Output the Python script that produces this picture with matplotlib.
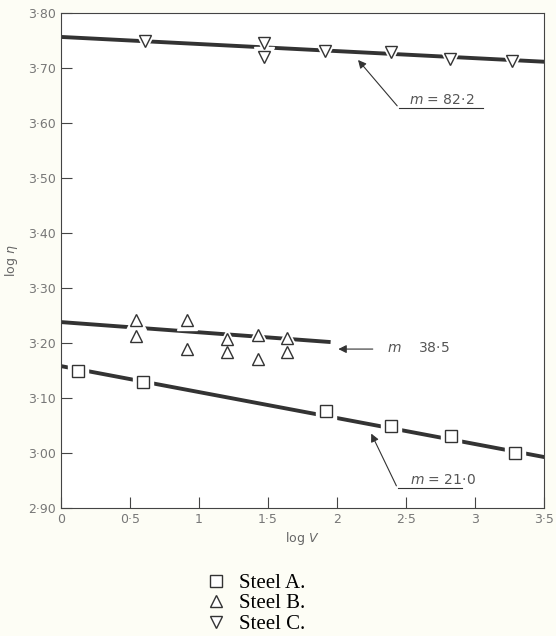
import matplotlib
matplotlib.use('Agg')
import matplotlib.pyplot as plt
from matplotlib.lines import Line2D

# Steel A (squares)
a_x = [0.12, 0.59, 1.92, 2.39, 2.83, 3.29]
a_y = [3.149, 3.129, 3.076, 3.049, 3.031, 3.000]
a_fit = [3.158, 2.993]          # fit at x=0 and x=3.5

# Steel B (up triangles)
b_x = [0.54, 0.54, 0.91, 0.91, 1.20, 1.20, 1.43, 1.43, 1.64, 1.64]
b_y = [3.242, 3.213, 3.242, 3.189, 3.207, 3.184, 3.215, 3.171, 3.209, 3.184]
b_fit_x = [0.0, 1.94]
b_fit = [3.238, 3.202]

# Steel C (down triangles)
c_x = [0.61, 1.47, 1.47, 1.91, 2.39, 2.82, 3.27]
c_y = [3.749, 3.745, 3.720, 3.731, 3.729, 3.716, 3.713]
c_fit = [3.756, 3.711]

x_ticks = [0, 0.5, 1, 1.5, 2, 2.5, 3, 3.5]
x_labels = ['0', '0·5', '1', '1·5', '2', '2·5', '3', '3·5']
y_ticks = [2.9, 3.0, 3.1, 3.2, 3.3, 3.4, 3.5, 3.6, 3.7, 3.8]
y_labels = ['2·90', '3·00', '3·10', '3·20', '3·30', '3·40', '3·50', '3·60', '3·70', '3·80']

bg = '#fdfdf5'
ink = '#333333'
fig = plt.figure(figsize=(5.56, 6.36), dpi=100, facecolor=bg)
ax = fig.add_axes([0.110, 0.201, 0.868, 0.779])
ax.set_facecolor('white')

ax.plot([0, 3.5], a_fit, color=ink, lw=2.8, zorder=2)
ax.plot(b_fit_x, b_fit, color=ink, lw=2.8, zorder=2)
ax.plot([0, 3.5], c_fit, color=ink, lw=2.8, zorder=2)

for xs, ys, mk in [(a_x, a_y, 's'), (b_x, b_y, '^'), (c_x, c_y, 'v')]:
    # white halo so the fit line breaks around each marker
    ax.plot(xs, ys, ls='none', marker=mk, ms=14, mfc='white', mec='white', zorder=3)
    ax.plot(xs, ys, ls='none', marker=mk, ms=9, mfc='white', mec=ink, mew=1.0, zorder=4)

# annotations
arrow = dict(arrowstyle='-|>', color=ink, lw=0.8, mutation_scale=12)
ax.plot([2.45, 3.06], [3.627, 3.627], color=ink, lw=0.8)
ax.annotate('', xy=(2.14, 3.718), xytext=(2.45, 3.627), arrowprops=arrow)
ax.text(2.52, 3.634, r'$m$ = 82·2', fontsize=10, color='#555555')

ax.annotate('', xy=(1.99, 3.189), xytext=(2.28, 3.189), arrowprops=arrow)
ax.text(2.36, 3.183, r'$m$    38·5', fontsize=10, color='#555555')

ax.plot([2.44, 2.91], [2.936, 2.936], color=ink, lw=0.8)
ax.annotate('', xy=(2.24, 3.040), xytext=(2.44, 2.936), arrowprops=arrow)
ax.text(2.53, 2.943, r'$m$ = 21·0', fontsize=10, color='#555555')

ax.set_xlim(0, 3.5)
ax.set_ylim(2.9, 3.8)
ax.set_xticks(x_ticks)
ax.set_xticklabels(x_labels)
ax.set_yticks(y_ticks)
ax.set_yticklabels(y_labels)
ax.tick_params(direction='in', length=8, width=0.8, colors='#444444',
               labelcolor='#777777', labelsize=9)
for s in ax.spines.values():
    s.set_color('#444444')
    s.set_linewidth(0.8)
ax.set_xlabel(r'log $V$', color='#666666', fontsize=9, labelpad=3)
ax.set_ylabel(r'log $\eta$', color='#666666', fontsize=9, labelpad=6)

handles = [Line2D([], [], ls='none', marker=m, ms=8, mfc='white', mec=ink, mew=1.0)
           for m in ['s', '^', 'v']]
fig.legend(handles, ['Steel A.', 'Steel B.', 'Steel C.'],
           loc='upper center', bbox_to_anchor=(0.46, 0.115), frameon=False,
           prop={'family': 'Liberation Serif', 'size': 15},
           handlelength=1.0, handletextpad=0.6, labelspacing=0.05,
           borderpad=0)

fig.savefig('out.png', dpi=100, facecolor=bg)
